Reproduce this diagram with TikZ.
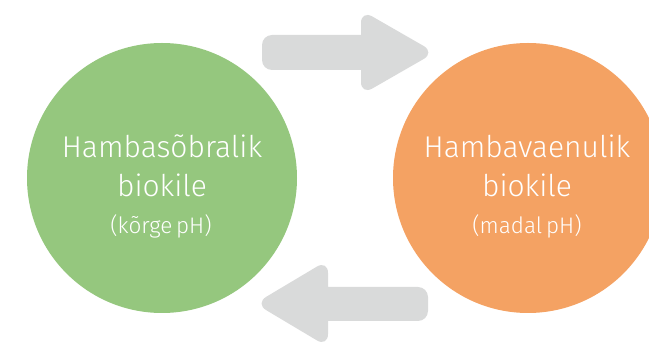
\documentclass[tikz,border=0pt]{standalone}
\usepackage{fontspec}
\setmainfont{Fira Sans Light}
\newfontfamily\smallfont[WordSpace=0.6]{Fira Sans Light}
\definecolor{cgreen}{HTML}{95C77E}
\definecolor{corange}{HTML}{F4A263}
\definecolor{cgrey}{HTML}{D9DADA}
\tikzset{
  blob/.style={circle, minimum size=270pt, inner sep=0pt},
  bigtxt/.style={text=white, font=\fontsize{30}{30}\selectfont, anchor=base, inner sep=0pt},
  smalltxt/.style={text=white, font=\smallfont\fontsize{22.5}{22.5}\selectfont, anchor=base, inner sep=0pt},
  arrowshape/.style={fill=cgrey}
}
\begin{document}
\begin{tikzpicture}[x=1pt,y=-1pt]
\useasboundingbox (0,0) rectangle (649,344);
\begin{scope}
\clip (0,0) rectangle (649,344);
\node[blob, fill=cgreen] (green) at (162,178) {};
\node[blob, fill=corange] (orange) at (528,178) {};
\end{scope}
% top arrow (right)
\fill[arrowshape] (300,70) [rounded corners=10pt] -- (262,70) -- (262,35) [sharp corners] -- (361,35)
  [rounded corners=13pt] -- (361,10) -- (435,52.5) -- (361,95) [sharp corners] -- (361,70) -- cycle;
% bottom arrow (left)
\fill[arrowshape] (390,287) [rounded corners=10pt] -- (428,287) -- (428,321) [sharp corners] -- (328,321)
  [rounded corners=13pt] -- (328,347) -- (255,303.5) -- (328,260) [sharp corners] -- (328,287) -- cycle;
\node[bigtxt] (g1) at (162,158) {Hambasõbralik};
\node[bigtxt] (g2) at (162,197) {biokile};
\node[smalltxt] (g3) at (161,234) {(kõrge pH)};
\node[bigtxt] (o1) at (527,158) {Hambavaenulik};
\node[bigtxt] (o2) at (527,197) {biokile};
\node[smalltxt] (o3) at (527,234) {(madal pH)};
\end{tikzpicture}
\end{document}
